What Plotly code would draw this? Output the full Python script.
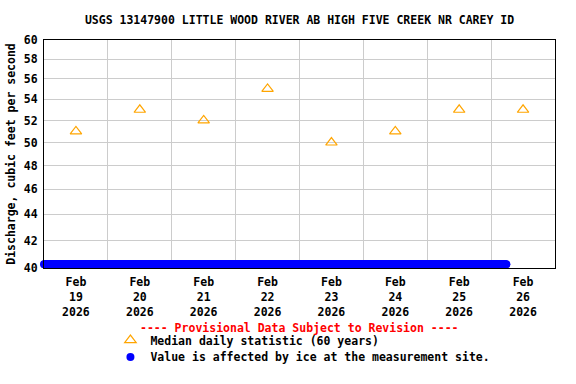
import math
import plotly.graph_objects as go
import pandas as pd

# ---- data ----
title_text = "USGS 13147900 LITTLE WOOD RIVER AB HIGH FIVE CREEK NR CAREY ID"
median_days = ["2026-02-19", "2026-02-20", "2026-02-21", "2026-02-22",
               "2026-02-23", "2026-02-24", "2026-02-25", "2026-02-26"]
median_values = [51, 53, 52, 55, 50, 51, 53, 53]
tick_labels = ["Feb<br>19<br>2026", "Feb<br>20<br>2026", "Feb<br>21<br>2026", "Feb<br>22<br>2026",
               "Feb<br>23<br>2026", "Feb<br>24<br>2026", "Feb<br>25<br>2026", "Feb<br>26<br>2026"]
y_ticks = [40, 42, 44, 46, 48, 50, 52, 54, 56, 58, 60]
ice_start = "2026-02-19 00:00"
ice_end = "2026-02-26 05:45"
ice_value = 40.27

ice_times = pd.date_range(ice_start, ice_end, freq="15min")
ice_values = [ice_value] * len(ice_times)
median_x = [pd.Timestamp(d) + pd.Timedelta(hours=12) for d in median_days]
midnights = [pd.Timestamp(d) for d in median_days] + [pd.Timestamp("2026-02-27")]

FONT = "DejaVu Sans Mono"
FS = 11.5


def f(color="black", size=FS):
    return dict(family=FONT, size=size, color=color, weight="bold")


fig = go.Figure()
fig.add_trace(go.Scatter(
    x=median_x, y=median_values, mode="markers",
    name="Median daily statistic (60 years)", legend="legend",
    marker=dict(symbol="triangle-up-open", size=10, color="#FFA500", line=dict(width=1.2, color="#FFA500")),
    cliponaxis=False, hoverinfo="skip",
))
fig.add_trace(go.Scatter(
    x=ice_times, y=ice_values, mode="markers",
    name="Value is affected by ice at the measurement site.", legend="legend2",
    marker=dict(symbol="circle", size=8, color="#0000FF", line=dict(width=0)),
    cliponaxis=False, hoverinfo="skip",
))

leg_common = dict(xref="paper", xanchor="left", yanchor="middle", bgcolor="rgba(0,0,0,0)",
                  borderwidth=0, itemwidth=30, font=f())

fig.update_layout(
    width=576, height=384,
    margin=dict(l=44, r=21, t=40, b=116, autoexpand=False),
    paper_bgcolor="white", plot_bgcolor="white",
    font=f(),
    title=dict(text=title_text, x=0.52, xanchor="center", y=0.948, yanchor="middle", font=f(),
               automargin=False),
    showlegend=True,
    legend=dict(x=0.13, y=-0.316, **leg_common),
    legend2=dict(x=0.13, y=-0.39, **leg_common),
    xaxis=dict(
        type="date", automargin=False,
        range=[pd.Timestamp("2026-02-19"), pd.Timestamp("2026-02-27")],
        tickvals=median_x, ticktext=tick_labels, ticks="",
        showgrid=False, showline=True, linecolor="black", linewidth=1, mirror=True,
        zeroline=False, ticklabelstandoff=3,
        minor=dict(tickvals=midnights, showgrid=True, gridcolor="#CCCCCC", gridwidth=1, ticks=""),
        tickfont=f(),
    ),
    yaxis=dict(
        type="log", automargin=False,
        range=[math.log10(40), math.log10(60)],
        tickvals=y_ticks, ticktext=[str(v) for v in y_ticks], ticks="",
        showgrid=True, gridcolor="#CCCCCC", gridwidth=1,
        showline=True, linecolor="black", linewidth=1, mirror=True, zeroline=False,
        ticklabelstandoff=3,
        title=dict(text="Discharge, cubic feet per second", standoff=5, font=f()),
        tickfont=f(),
    ),
)
fig.add_annotation(
    text="---- Provisional Data Subject to Revision ----",
    x=0.5, xref="paper", y=-0.262, yref="paper", yanchor="middle", showarrow=False,
    font=f("#FF0000"),
)
fig.write_html("out.html", config={"displayModeBar": False, "staticPlot": True},
               post_script="document.body.style.margin='0';document.body.style.overflow='hidden';")
